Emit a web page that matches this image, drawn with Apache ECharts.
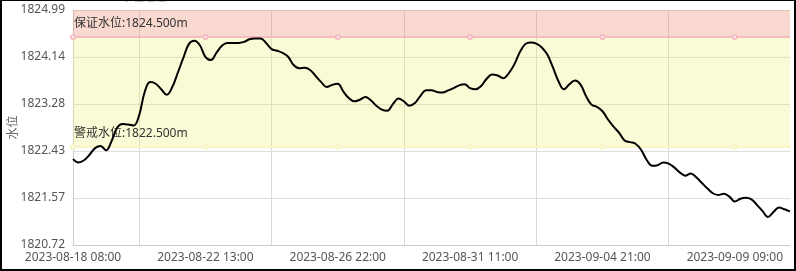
<!DOCTYPE html>
<html>
<head>
<meta charset="utf-8">
<script src="https://cdn.jsdelivr.net/npm/echarts@6/dist/echarts.min.js"></script>
<style>
html,body{margin:0;padding:0;background:#fff;}
#wrap{width:796px;height:271px;box-sizing:border-box;border:2px solid #000;border-top-width:1px;overflow:hidden;}
#chart{width:792px;height:268px;}
</style>
</head>
<body>
<div id="wrap"><div id="chart"></div></div>
<script>
// ---- data ----
const tickLabels = ['2023-08-18 08:00', '2023-08-22 13:00', '2023-08-26 22:00', '2023-08-31 11:00', '2023-09-04 21:00', '2023-09-09 09:00'];
const pointsPerTick = 24;
const waterLevel = [
  1822.28,1822.22,1822.26,1822.36,1822.48,1822.52,1822.44,1822.61,1822.85,1822.92,
  1822.91,1822.89,1823.08,1823.50,1823.68,1823.65,1823.55,1823.45,1823.59,1823.85,
  1824.12,1824.37,1824.43,1824.35,1824.14,1824.08,1824.21,1824.34,1824.39,1824.39,
  1824.39,1824.41,1824.46,1824.47,1824.47,1824.39,1824.28,1824.25,1824.21,1824.14,
  1823.99,1823.93,1823.94,1823.90,1823.79,1823.68,1823.59,1823.63,1823.65,1823.51,
  1823.39,1823.33,1823.36,1823.41,1823.35,1823.25,1823.18,1823.16,1823.28,1823.38,
  1823.33,1823.25,1823.30,1823.43,1823.53,1823.53,1823.50,1823.49,1823.53,1823.57,
  1823.62,1823.64,1823.57,1823.55,1823.61,1823.74,1823.82,1823.80,1823.75,1823.84,
  1824.00,1824.22,1824.37,1824.40,1824.38,1824.31,1824.18,1823.95,1823.70,1823.55,
  1823.64,1823.71,1823.64,1823.43,1823.27,1823.23,1823.15,1823.00,1822.87,1822.76,
  1822.62,1822.59,1822.56,1822.45,1822.27,1822.16,1822.17,1822.22,1822.20,1822.13,
  1822.04,1821.98,1822.02,1821.95,1821.85,1821.75,1821.66,1821.63,1821.65,1821.60,
  1821.51,1821.56,1821.58,1821.55,1821.45,1821.34,1821.23,1821.32,1821.40,1821.37,
  1821.33
];
const guaranteeLevel = 1824.5;
const warningLevel = 1822.5;
const yMin = 1820.72;
const yMax = 1824.99;
const ySplits = 5;

// ---- categories (time strings; labelled ones are exact tick labels) ----
function parseT(s){const [d,t]=s.split(' ');const [Y,M,D]=d.split('-').map(Number);const [h,m]=t.split(':').map(Number);return Date.UTC(Y,M-1,D,h,m);}
function pad(n){return (n<10?'0':'')+n;}
function fmtT(ms){const d=new Date(ms);return d.getUTCFullYear()+'-'+pad(d.getUTCMonth()+1)+'-'+pad(d.getUTCDate())+' '+pad(d.getUTCHours())+':'+pad(d.getUTCMinutes());}
const tickTimes = tickLabels.map(parseT);
const categories = waterLevel.map(function(_, i){
  if (i % pointsPerTick === 0 && i / pointsPerTick < tickLabels.length) return tickLabels[i / pointsPerTick];
  const seg = Math.min(Math.floor(i / pointsPerTick), tickLabels.length - 2);
  const t = tickTimes[seg] + (tickTimes[seg+1] - tickTimes[seg]) * (i - seg * pointsPerTick) / pointsPerTick;
  return fmtT(Math.round(t / 60000) * 60000);
});
const guaranteeLine = categories.map(function(){return guaranteeLevel;});
const warningLine = categories.map(function(){return warningLevel;});

const FONT = '"Noto Sans", "Noto Sans CJK SC", sans-serif';
const chart = echarts.init(document.getElementById('chart'), null, {renderer:'canvas'});
chart.setOption({
  animation: false,
  title: {
    text: '水位过程', left: 115, top: -14,
    textStyle: {fontSize: 11, color: '#b0b0b0', fontWeight: 'normal', fontFamily: FONT}
  },
  grid: {left: 71, right: 4, top: 9, bottom: 24, containLabel: false, outerBoundsMode: 'none'},
  xAxis: {
    type: 'category',
    data: categories,
    boundaryGap: false,
    axisLine: {show: true, lineStyle: {color: '#ccc'}},
    axisTick: {show: false},
    axisLabel: {
      color: '#555', fontSize: 12, fontFamily: FONT, margin: 7,
      interval: function(i){return i % pointsPerTick === 0;}
    },
    splitLine: {
      show: true, lineStyle: {color: '#d9d9d9'},
      interval: function(i){return i % pointsPerTick === pointsPerTick / 2;}
    }
  },
  yAxis: {
    type: 'value',
    name: '水位',
    nameLocation: 'middle',
    nameGap: 53,
    nameMoveOverlap: false,
    nameTextStyle: {color: '#666', fontSize: 12, fontFamily: FONT},
    min: yMin, max: yMax,
    interval: (yMax - yMin) / ySplits,
    axisLine: {show: true, lineStyle: {color: '#ccc'}},
    axisTick: {show: false},
    axisLabel: {color: '#555', fontSize: 12, fontFamily: FONT, margin: 8,
      formatter: function(v){return v.toFixed(2);}},
    splitLine: {show: true, lineStyle: {color: '#dcdcdc'}}
  },
  series: [
    {
      name: '保证水位', type: 'line', data: guaranteeLine,
      symbol: 'emptyCircle', symbolSize: 4, showAllSymbol: 'auto',
      lineStyle: {color: '#f4bcc0', width: 2},
      itemStyle: {color: '#f4bcc0', borderWidth: 1},
      z: 3, silent: true,
      markArea: {
        silent: true,
        data: [
          [{yAxis: guaranteeLevel, itemStyle: {color: 'rgba(232,125,95,0.30)'}}, {yAxis: yMax}],
          [{yAxis: warningLevel, itemStyle: {color: 'rgba(240,240,120,0.30)'}}, {yAxis: guaranteeLevel}]
        ]
      },
      markLine: {
        silent: true, symbol: 'none',
        lineStyle: {color: 'rgba(0,0,0,0)', width: 0},
        label: {show: true, position: 'insideStartTop', distance: [1, 7], color: '#333', fontSize: 12, fontFamily: FONT,
          formatter: '保证水位:' + guaranteeLevel.toFixed(3) + 'm'},
        data: [{yAxis: guaranteeLevel}]
      }
    },
    {
      name: '警戒水位', type: 'line', data: warningLine,
      symbol: 'emptyCircle', symbolSize: 4, showAllSymbol: 'auto',
      lineStyle: {color: '#f7f4c6', width: 2},
      itemStyle: {color: '#f7f4c6', borderWidth: 1},
      z: 3, silent: true,
      markLine: {
        silent: true, symbol: 'none',
        lineStyle: {color: 'rgba(0,0,0,0)', width: 0},
        label: {show: true, position: 'insideStartTop', distance: [1, 7], color: '#333', fontSize: 12, fontFamily: FONT,
          formatter: '警戒水位:' + warningLevel.toFixed(3) + 'm'},
        data: [{yAxis: warningLevel}]
      }
    },
    {
      name: '水位', type: 'line', data: waterLevel,
      showSymbol: false, smooth: 0.4,
      lineStyle: {color: '#000', width: 2},
      z: 5
    }
  ]
});
</script>
</body>
</html>
